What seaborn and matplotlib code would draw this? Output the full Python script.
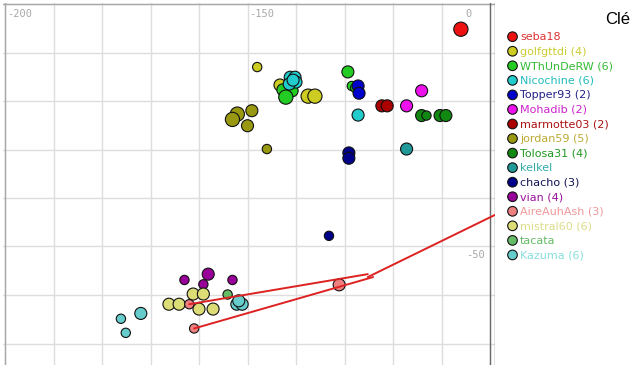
import numpy as np
import pandas as pd
import matplotlib
matplotlib.use("Agg")
import matplotlib.pyplot as plt
import seaborn as sns

# ---------------- data ----------------
players = ["seba18", "golfgttdi", "WThUnDeRW", "Nicochine", "Topper93", "Mohadib",
           "marmotte03", "jordan59", "Tolosa31", "kelkel", "chacho", "vian",
           "AireAuhAsh", "mistral60", "tacata", "Kazuma"]
counts = [None, 4, 6, 6, 2, 2, 2, 5, 4, None, 3, 4, 3, 6, None, 6]
marker_colors = ["#ee1111", "#cccc22", "#22cc22", "#22cccc", "#0000cc", "#ee11ee",
                 "#aa0000", "#999911", "#118811", "#229999", "#000088", "#990099",
                 "#ee8080", "#dddd77", "#66bb66", "#66cccc"]
text_colors = ["#dd3333", "#cccc33", "#33bb33", "#22bbbb", "#222288", "#cc22cc",
               "#aa1111", "#bbaa33", "#229922", "#33aaaa", "#111155", "#991199",
               "#ee9999", "#dddd88", "#66bb66", "#88dddd"]

pt_player = (["seba18"]
             + ["golfgttdi"] * 4
             + ["WThUnDeRW"] * 5
             + ["Nicochine"] * 6
             + ["WThUnDeRW"]
             + ["Topper93"] * 2
             + ["Mohadib"] * 2
             + ["marmotte03"] * 2
             + ["jordan59"] * 5
             + ["Tolosa31"] * 4
             + ["kelkel"]
             + ["chacho"] * 3
             + ["vian"] * 4
             + ["mistral60"] * 6
             + ["AireAuhAsh"] * 3
             + ["tacata"]
             + ["Kazuma"] * 6)
pt_x = [-106.0,
        -148.0, -143.3, -137.5, -136.1,
        -142.7, -140.8, -129.3, -128.5, -127.8,
        -141.2, -140.2, -140.0, -141.4, -140.6, -127.2,
        -142.1,
        -127.2, -127.0,
        -114.1, -117.2,
        -122.3, -121.2,
        -152.1, -153.1, -149.1, -150.0, -146.0,
        -114.1, -113.1, -110.3, -109.1,
        -117.2,
        -129.1, -129.1, -133.2,
        -163.0, -158.1, -159.1, -153.1,
        -166.2, -164.1, -161.2, -159.1, -160.0, -157.1,
        -162.0, -161.0, -131.1,
        -154.1,
        -176.1, -172.0, -175.1, -152.2, -151.1, -151.8]
pt_y = [-5.2,
        -13.0, -16.7, -19.0, -19.0,
        -17.7, -17.9, -14.0, -16.9, -17.3,
        -15.1, -15.1, -16.1, -16.5, -15.7, -22.9,
        -19.2,
        -16.9, -18.4,
        -17.9, -21.0,
        -21.0, -21.0,
        -22.7, -23.8, -22.0, -25.1, -29.9,
        -23.0, -23.0, -23.0, -23.0,
        -29.9,
        -30.7, -31.8, -47.8,
        -56.9, -55.7, -57.8, -56.9,
        -61.9, -61.9, -59.8, -59.8, -62.9, -62.9,
        -61.9, -66.9, -57.9,
        -59.9,
        -64.9, -63.8, -67.8, -61.9, -61.9, -61.2]
pt_level = [3,
            1, 2, 3, 3,
            2, 2, 2, 1, 1,
            2, 2, 2, 2, 2, 2,
            3,
            2, 2,
            2, 2,
            2, 2,
            3, 3, 2, 2, 1,
            2, 1, 2, 2,
            2,
            2, 2, 1,
            1, 2, 1, 1,
            2, 2, 2, 2, 2, 2,
            1, 1, 2,
            1,
            1, 2, 1, 2, 2, 2]

# AireAuhAsh movement tracks
track_a_x = [-162.0, -125.2]
track_a_y = [-61.9, -55.7]
track_b_x = [-161.0, -124.1]
track_b_y = [-66.9, -56.3]
track_c_x = [-125.2, -99.0]
track_c_y = [-56.3, -43.5]

x_tick_labels = ["-200", "-150"]
y_tick_labels = ["0", "-50"]

# ---------------- figure ----------------
W, H = 640, 365
fig = plt.figure(figsize=(W / 100, H / 100), dpi=100)
k = 4.85  # px per unit
ax = fig.add_axes([3 / W, 0, 492 / W, 362 / H])
ax.set_xlim(-200 - 2 / k, -200 + 490 / k)
ax.set_ylim(-361 / k, 1 / k)

ax.set_xticks(np.arange(-200, -99, 10))
ax.set_yticks(np.arange(-70, 1, 10))
ax.grid(True, color="#dddddd", lw=1)
ax.set_axisbelow(True)
ax.tick_params(length=0, labelbottom=False, labelleft=False)
for s in ax.spines.values():
    s.set_visible(False)
ax.axvline(-200, color="#a8a8a8", lw=1, zorder=1)
ax.axhline(0, color="#a8a8a8", lw=1, zorder=1)
ax.axvline(-100, color="#6a6a6a", lw=1, zorder=1)
ax.axvline(-200 + 489.5 / k, color="#6a6a6a", lw=1, zorder=1)

df = pd.DataFrame({"x": pt_x, "y": pt_y, "player": pt_player, "level": pt_level})
palette = dict(zip(players, marker_colors))
sns.scatterplot(data=df, x="x", y="y", hue="player", size="level",
                palette=palette, sizes={1: 45, 2: 75, 3: 105},
                edgecolor="#111111", linewidth=0.8, legend=False, ax=ax, zorder=3)
ax.set_xlabel("")
ax.set_ylabel("")

for tx, ty in [(track_a_x, track_a_y), (track_b_x, track_b_y), (track_c_x, track_c_y)]:
    ax.plot(tx, ty, color="#dd2222", lw=1.4, zorder=4, solid_capstyle="round")

lab_kw = dict(color="#a8a8a8", fontsize=7.5, family="DejaVu Sans Mono", va="top")
ax.text(-200 + 2 / k, -5 / k, x_tick_labels[0], ha="left", **lab_kw)
ax.text(-200 + 244 / k, -5 / k, x_tick_labels[1], ha="left", **lab_kw)
ax.text(-200 + 467 / k, -5 / k, y_tick_labels[0], ha="right", **lab_kw)
ax.text(-200 + 480 / k, -246 / k, y_tick_labels[1], ha="right", **lab_kw)

# ---------------- legend ----------------
lax = fig.add_axes([0, 0, 1, 1], facecolor="none")
lax.set_xlim(0, W)
lax.set_ylim(H, 0)
lax.axis("off")
leg_y = [36.7 + i * 14.55 for i in range(len(players))]
leg_df = pd.DataFrame({"x": [512.5] * len(players), "y": leg_y, "player": players})
sns.scatterplot(data=leg_df, x="x", y="y", hue="player", palette=palette, s=48,
                edgecolor="#111111", linewidth=0.8, legend=False, ax=lax)
lax.set_xlim(0, W)
lax.set_ylim(H, 0)
for name, c, tc, yy in zip(players, counts, text_colors, leg_y):
    lbl = name if c is None else f"{name} ({c})"
    lax.text(520, yy + 0.5, lbl, color=tc, fontsize=8, family="DejaVu Sans",
             va="center", ha="left")
lax.text(605, 23.5, "Clé", fontsize=12, family="Liberation Sans", color="black",
         ha="left", va="baseline")

fig.savefig("out.png", dpi=100)
